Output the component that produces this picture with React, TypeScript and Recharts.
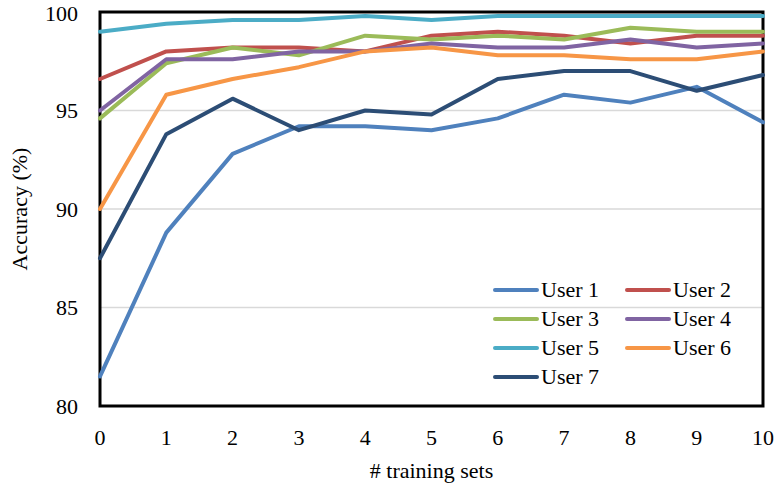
import React from 'react';
import {
  LineChart,
  Line,
  XAxis,
  YAxis,
  CartesianGrid,
  Legend,
  ReferenceArea
} from 'recharts';

const trainingSets = [0, 1, 2, 3, 4, 5, 6, 7, 8, 9, 10];
const user1 = [81.5, 88.8, 92.8, 94.2, 94.2, 94.0, 94.6, 95.8, 95.4, 96.2, 94.4];
const user2 = [96.6, 98.0, 98.2, 98.2, 98.0, 98.8, 99.0, 98.8, 98.4, 98.8, 98.8];
const user3 = [94.6, 97.4, 98.2, 97.8, 98.8, 98.6, 98.8, 98.6, 99.2, 99.0, 99.0];
const user4 = [95.0, 97.6, 97.6, 98.0, 98.0, 98.4, 98.2, 98.2, 98.6, 98.2, 98.4];
const user5 = [99.0, 99.4, 99.6, 99.6, 99.8, 99.6, 99.8, 99.8, 99.8, 99.8, 99.8];
const user6 = [90.0, 95.8, 96.6, 97.2, 98.0, 98.2, 97.8, 97.8, 97.6, 97.6, 98.0];
const user7 = [87.5, 93.8, 95.6, 94.0, 95.0, 94.8, 96.6, 97.0, 97.0, 96.0, 96.8];
const yTicks = [80, 85, 90, 95, 100];

const series = [
  { key: 'user1', name: 'User 1', values: user1, color: '#4F81BD' },
  { key: 'user2', name: 'User 2', values: user2, color: '#C0504D' },
  { key: 'user3', name: 'User 3', values: user3, color: '#9BBB59' },
  { key: 'user4', name: 'User 4', values: user4, color: '#8064A2' },
  { key: 'user5', name: 'User 5', values: user5, color: '#4BACC6' },
  { key: 'user6', name: 'User 6', values: user6, color: '#F79646' },
  { key: 'user7', name: 'User 7', values: user7, color: '#2C4D75' }
];

const data = trainingSets.map((x, i) => {
  const row: any = { x };
  series.forEach((s) => {
    row[s.key] = s.values[i];
  });
  return row;
});

const font = '"Liberation Serif", "Times New Roman", serif';

const LegendBox = () => (
  <div
    style={{
      display: 'grid',
      gridTemplateColumns: '132px 132px',
      gridAutoRows: '29px',
      fontFamily: font,
      fontSize: 22,
      color: '#000'
    }}
  >
    {series.map((s) => (
      <div key={s.key} style={{ display: 'flex', alignItems: 'center' }}>
        <span
          style={{
            display: 'inline-block',
            width: 46,
            height: 4,
            borderRadius: 2,
            background: s.color,
            marginRight: 2
          }}
        />
        <span>{s.name}</span>
      </div>
    ))}
  </div>
);

export default function App() {
  return (
    <div style={{ position: 'absolute', left: 0, top: 0, background: '#fff' }}>
      <LineChart
        width={775}
        height={489}
        data={data}
        margin={{ top: 12, right: 12, left: 0, bottom: 0 }}
      >
        <CartesianGrid horizontal vertical={false} stroke="#D9D9D9" strokeWidth={1.5} />
        <XAxis
          dataKey="x"
          type="number"
          domain={[0, 10]}
          ticks={trainingSets}
          height={83}
          axisLine={false}
          tickLine={false}
          tickMargin={17}
          tick={{ fill: '#000', fontSize: 22, fontFamily: font }}
          label={{
            value: '# training sets',
            position: 'insideBottom',
            offset: 11,
            style: { fill: '#000', fontSize: 22, fontFamily: font }
          }}
        />
        <YAxis
          type="number"
          domain={[80, 100]}
          ticks={yTicks}
          width={100}
          axisLine={false}
          tickLine={false}
          tickMargin={16}
          tick={{ fill: '#000', fontSize: 22, fontFamily: font }}
          label={{
            value: 'Accuracy (%)',
            angle: -90,
            position: 'insideLeft',
            offset: 19,
            style: { fill: '#000', fontSize: 22, fontFamily: font, textAnchor: 'middle' }
          }}
        />
        {series.map((s) => (
          <Line
            key={s.key}
            type="linear"
            dataKey={s.key}
            name={s.name}
            stroke={s.color}
            strokeWidth={4}
            strokeLinecap="round"
            strokeLinejoin="round"
            dot={false}
            activeDot={false}
            isAnimationActive={false}
          />
        ))}
        <ReferenceArea
          x1={0}
          x2={10}
          y1={80}
          y2={100}
          fill="none"
          stroke="#000"
          strokeWidth={3}
        />
        <Legend
          layout="horizontal"
          verticalAlign="middle"
          align="center"
          content={() => <LegendBox />}
          wrapperStyle={{ position: 'absolute', left: 493, top: 275, width: 270, bottom: 'auto', right: 'auto' }}
        />
      </LineChart>
    </div>
  );
}
